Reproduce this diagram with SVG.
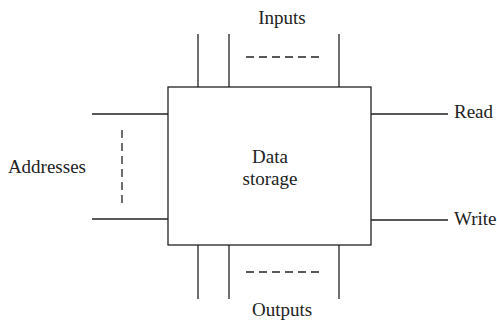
<svg xmlns="http://www.w3.org/2000/svg" width="497" height="322" viewBox="0 0 497 322">
<style>
.t{font-family:"Liberation Serif","Times New Roman",serif;font-size:19px;fill:#222}
.l{stroke:#222;stroke-width:1.3;fill:none}
.d{stroke:#222;stroke-width:1.3;fill:none;stroke-dasharray:8,5}
</style>
<rect width="497" height="322" fill="#fff"/>
<g id="connectors">
<line class="l" x1="198" y1="34" x2="198" y2="87"/>
<line class="l" x1="229" y1="34" x2="229" y2="87"/>
<line class="l" x1="339" y1="34" x2="339" y2="87"/>
<line class="d" x1="246" y1="57" x2="321" y2="57"/>
<line class="l" x1="198" y1="245" x2="198" y2="299"/>
<line class="l" x1="229" y1="245" x2="229" y2="299"/>
<line class="l" x1="339" y1="245" x2="339" y2="299"/>
<line class="d" x1="246" y1="272" x2="321" y2="272"/>
<line class="l" x1="92" y1="114" x2="168" y2="114"/>
<line class="l" x1="92" y1="219" x2="168" y2="219"/>
<line class="d" x1="122" y1="130" x2="122" y2="206"/>
<line class="l" x1="371" y1="114" x2="448" y2="114"/>
<line class="l" x1="371" y1="220" x2="448" y2="220"/>
</g>
<g id="storage">
<rect class="l" x="168" y="87" width="203" height="158"/>
<text class="t" x="270" y="163" text-anchor="middle">Data</text>
<text class="t" x="270" y="185" text-anchor="middle">storage</text>
</g>
<g id="inputs"><text class="t" x="282" y="24" text-anchor="middle">Inputs</text></g>
<g id="outputs"><text class="t" x="282" y="316" text-anchor="middle">Outputs</text></g>
<g id="addresses"><text class="t" x="86" y="173" text-anchor="end">Addresses</text></g>
<g id="read"><text class="t" x="454" y="118">Read</text></g>
<g id="write"><text class="t" x="454" y="225">Write</text></g>
</svg>
